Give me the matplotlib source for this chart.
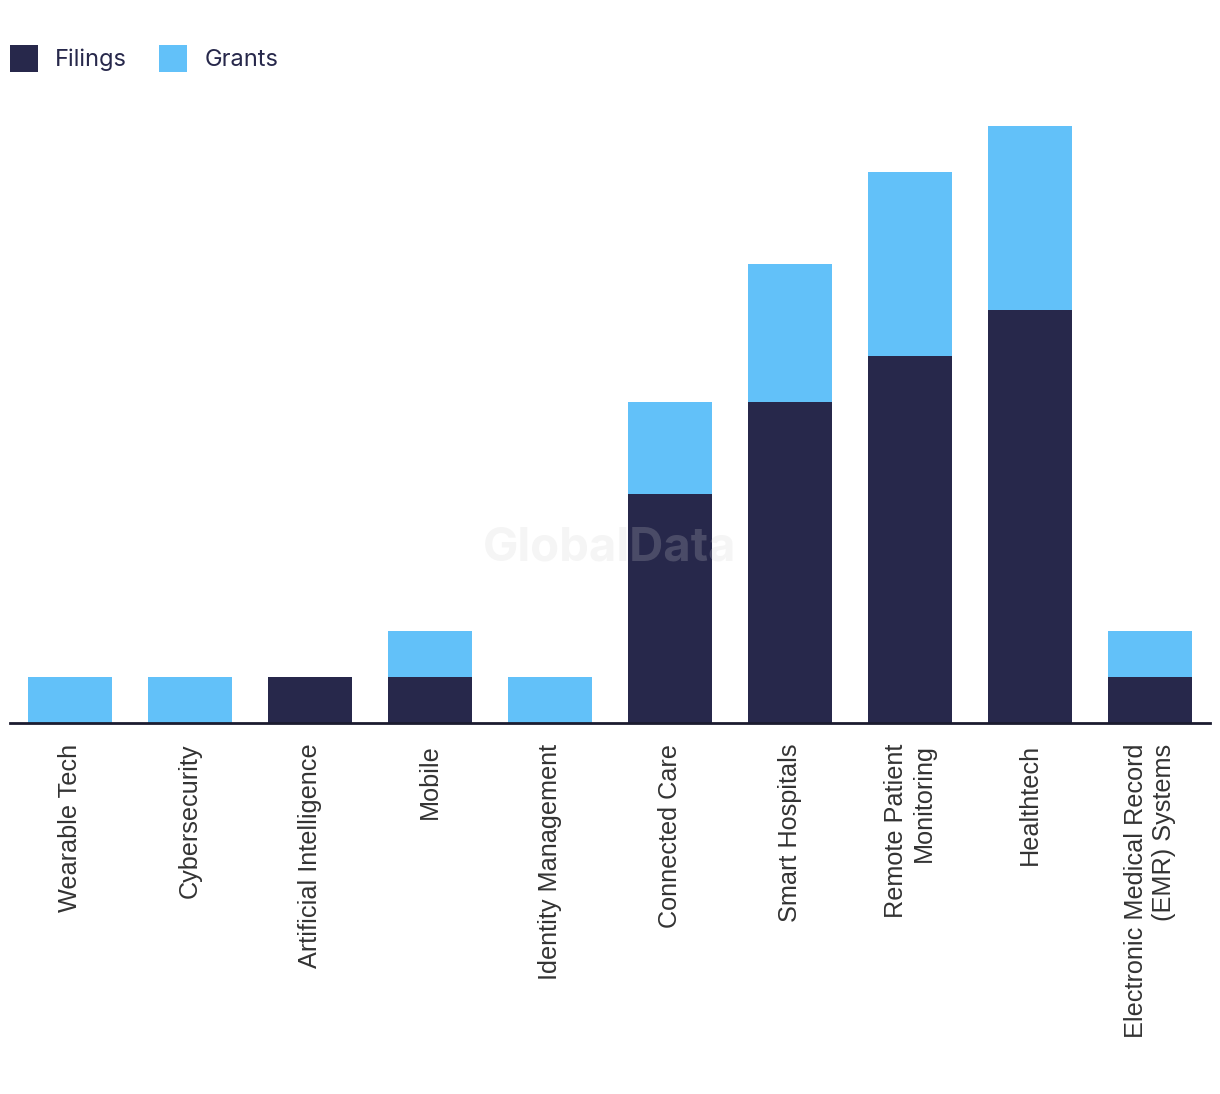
import numpy as np
import matplotlib.pyplot as plt
from matplotlib.patches import Patch

categories = ['Wearable Tech', 'Cybersecurity', 'Artificial Intelligence', 'Mobile',
              'Identity Management', 'Connected Care', 'Smart Hospitals',
              'Remote Patient\nMonitoring', 'Healthtech',
              'Electronic Medical Record\n(EMR) Systems']
filings = [0, 0, 1, 1, 0, 5, 7, 8, 9, 1]
grants = [1, 1, 0, 1, 1, 2, 3, 4, 4, 1]

navy = '#27284b'
blue = '#62c1f9'

fig = plt.figure(figsize=(12.2, 10.94), dpi=100)
ax = fig.add_axes([10 / 1220, 371 / 1094, 1200 / 1220, 624 / 1094])

x = np.arange(len(categories))
ax.bar(x, filings, width=0.7, color=navy, zorder=2)
ax.bar(x, grants, width=0.7, bottom=filings, color=blue, zorder=2)

ax.set_xlim(-0.5, len(categories) - 0.5)
ax.set_ylim(0, 624 / 45.9)

for s in ['top', 'right', 'left']:
    ax.spines[s].set_visible(False)
ax.spines['bottom'].set_color('#1b1b2f')
ax.spines['bottom'].set_linewidth(2)
ax.set_yticks([])
ax.set_xticks(x)
ax.set_xticklabels(categories, rotation=90, fontsize=18.2, color='#333333',
                   family='Liberation Sans', va='top', ha='center',
                   multialignment='right', linespacing=1.25)
ax.tick_params(axis='x', length=0, pad=15)

# watermark
ax.text(0.5, 0.28, 'GlobalData', transform=ax.transAxes, ha='center', va='center',
        fontsize=34, fontweight='bold', family='Inter', color='#d0d0d0',
        alpha=0.21, zorder=3)

handles = [Patch(facecolor=navy, label='Filings'), Patch(facecolor=blue, label='Grants')]
fig.legend(handles=handles, loc='upper left', bbox_to_anchor=(10 / 1220, 1 - 45 / 1094),
           ncol=2, frameon=False, handlelength=1.2, handleheight=1.35,
           handletextpad=0.72, columnspacing=1.35, labelcolor=navy,
           borderpad=0, borderaxespad=0,
           prop={'family': 'Inter', 'size': 17})

fig.savefig('out.png', dpi=100)
